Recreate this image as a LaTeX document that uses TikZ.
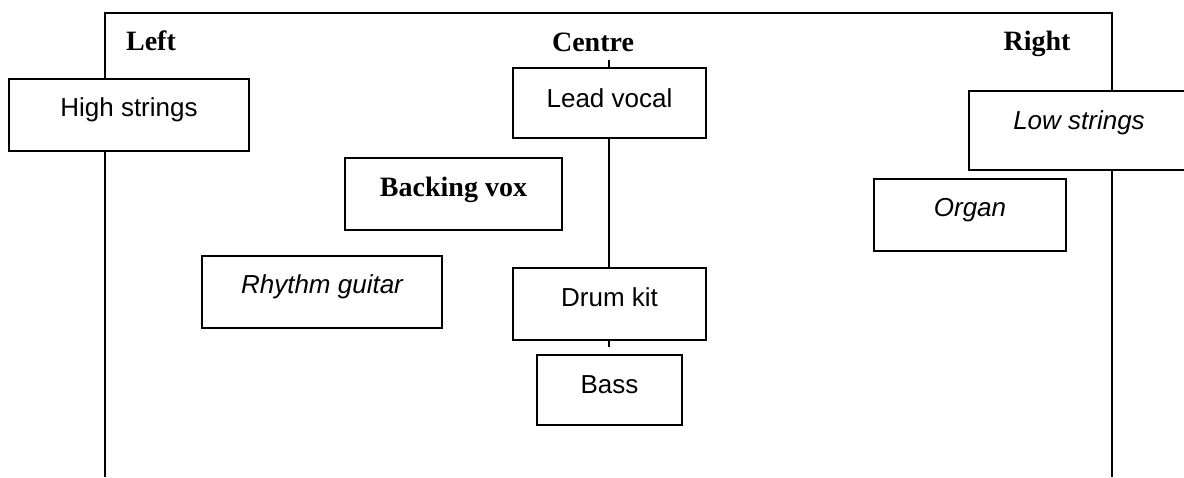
\documentclass[tikz,border=0pt]{standalone}
\usepackage{fontspec}
\setmainfont{Liberation Serif}
\setsansfont{Liberation Sans}
\begin{document}
\begin{tikzpicture}[x=1pt,y=-1pt,
  line width=2pt,
  heading/.style={anchor=base,inner sep=0pt,font=\fontsize{28}{32}\selectfont\bfseries},
  instr/.style={draw,fill=white,line width=2pt,inner sep=0pt,anchor=north west,
    font=\fontsize{26}{30}\selectfont\sffamily},
  instrit/.style={instr,font=\fontsize{26}{30}\selectfont\sffamily\itshape},
  instrbf/.style={instr,font=\fontsize{28}{32}\selectfont\rmfamily\bfseries}]
\useasboundingbox (0,0) rectangle (1184,477);

% stage frame: left and right walls joined across the top
\coordinate (lbot) at (105,477);
\coordinate (ltop) at (105,13);
\coordinate (rtop) at (1112,13);
\coordinate (rbot) at (1112,477);
\draw (lbot) -- (ltop) -- (rtop) -- (rbot);

% centre axis ends
\coordinate (ctop) at (609,60);
\coordinate (cbot) at (609,347);
\draw (ctop) -- (cbot);

% position headings
\node[heading] (left)   at (151,50) {Left};
\node[heading] (centre) at (593,51) {Centre};
\node[heading] (right)  at (1037,50) {Right};

% instruments
\node[instr,minimum width=240pt,text height=37pt,text depth=35pt] (high) at (8,78) {High strings};
\node[instr,minimum width=193pt,text height=39pt,text depth=31pt] (lead) at (512,67) {Lead vocal};
\node[instrit,minimum width=220pt,text height=38pt,text depth=41pt] (low) at (968,90) {Low strings};
\node[instrbf,minimum width=217pt,text height=38pt,text depth=34pt] (backing) at (344,157) {Backing vox};
\node[instrit,minimum width=192pt,text height=37pt,text depth=35pt] (organ) at (873,178) {Organ};
\node[instrit,minimum width=240pt,text height=37pt,text depth=35pt] (rhythm) at (201,255) {Rhythm guitar};
\node[instr,minimum width=193pt,text height=38pt,text depth=34pt] (drums) at (512,267) {Drum kit};
\node[instr,minimum width=145pt,text height=38pt,text depth=32pt] (bass) at (536,354) {Bass};
\end{tikzpicture}
\end{document}
